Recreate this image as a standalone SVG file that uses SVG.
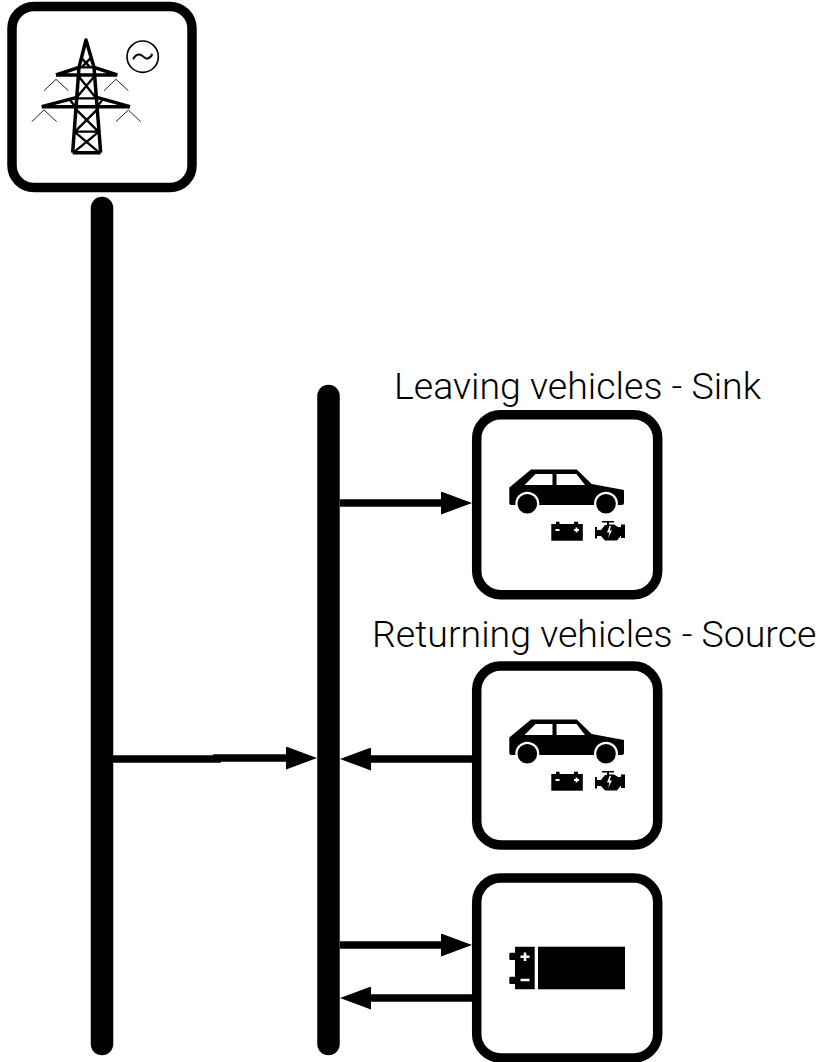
<svg xmlns="http://www.w3.org/2000/svg" width="819" height="1062" viewBox="0 0 819 1062">
<style>
.box{fill:#fff;stroke:#000;stroke-width:9.5}
.bar{stroke:#000;stroke-width:22.5;stroke-linecap:round;fill:none}
.conn{stroke:#000;stroke-width:7.7;fill:none;marker-end:url(#head)}
.lbl{font-family:Roboto,"Liberation Sans",sans-serif;font-weight:300;font-size:37.500px;fill:#000}
.t{stroke:#000;stroke-width:7;fill:none;stroke-linejoin:round}
.t2{stroke:#000;stroke-width:10.500;fill:none;stroke-linejoin:round}
.thin{stroke:#222;stroke-width:3;fill:none}
</style>
<defs>
<marker id="head" markerUnits="userSpaceOnUse" markerWidth="31" markerHeight="23" viewBox="0 0 31 23" refX="10" refY="11.500" orient="auto"><polygon points="0,0 31,11.500 0,23" fill="#000"/></marker>
<g id="car">
<path d="M509.300 487.500L531 469.500H576.700L591.700 484L624 490V503Q624 505 622 505H511Q509.300 505 509.300 503Z" fill="#000"/>
<path d="M524.500 485L535.500 474H552.500V485ZM556.500 474H576.500L585 485H556.500Z" fill="#fff"/>
<circle cx="527.300" cy="503.700" r="12" fill="#fff"/><circle cx="527.300" cy="503.700" r="9.800" fill="#000"/>
<circle cx="606" cy="503.700" r="12" fill="#fff"/><circle cx="606" cy="503.700" r="9.800" fill="#000"/>
<rect x="551.300" y="524" width="31.500" height="16.700" fill="#000"/>
<rect x="556" y="521.700" width="3.500" height="3" fill="#000"/><rect x="574" y="521.700" width="4" height="3" fill="#000"/>
<path d="M555.500 530H559.500M574 530H579M576.500 527.500V532.500" stroke="#fff" stroke-width="1.800" fill="none"/>
<path d="M602 521H614V522.500H609V524.500H614L618 527H621V524.500H625V538H621V535.500L617 540.500H605L601 536H597V538.500H595V527H597V530H601L605 525H607V522.500H602Z" fill="#000"/>
<path d="M609.500 526L607 532.500H609.500L608 538L612 530.500H609.700L611 526Z" fill="#fff"/>
</g>
</defs>
<g id="connectors">
<path class="conn" d="M113 759H217V758H296"/>
<path class="conn" d="M472 759H361"/>
<path class="conn" d="M340 503H451"/>
<path class="conn" d="M340 945H451"/>
<path class="conn" d="M472 998H361"/>
</g>
<g id="bus-grid"><line class="bar" x1="102" y1="208" x2="102" y2="1044"/></g>
<g id="bus-local"><line class="bar" x1="328.500" y1="396" x2="328.500" y2="1044"/></g>
<g id="grid-node">
<rect class="box" x="12" y="6.500" width="180" height="181" rx="22"/>
<g transform="translate(30 30) scale(.33333)">
<path class="t2" d="M128 368H212M128 368L147 112L168 30L192 112L212 368"/>
<path class="t" d="M155 85L181 112M181 85L155 112M147 112H192M147 140L195 200M192 140L142 200M142 205H200M135 235L205 305M205 235L135 305M133 305H207M133 305L208 368M207 305L130 368"/>
<path class="t2" d="M78 135H262M35 230H300M78 135L147 112M262 135L192 112M35 230L138 203M300 230L203 203"/>
<path class="t" d="M118 208L136 230M218 208L202 230"/>
<path class="thin" d="M42 182L78 148L115 182M222 182L258 148L295 182M5 275L42 240L80 275M258 275L295 240L332 275"/>
<circle cx="338" cy="80" r="47" fill="#fff" stroke="#000" stroke-width="5"/>
<path d="M309 88C320 68 332 72 340 80C348 88 358 90 367 72" fill="none" stroke="#000" stroke-width="6"/>
</g>
</g>
<g id="leaving-node">
<rect class="box" x="476.700" y="414.700" width="181" height="180" rx="24"/>
<use href="#car"/>
<text class="lbl" x="394" y="399">Leaving vehicles - Sink</text>
</g>
<g id="returning-node">
<rect class="box" x="476.700" y="666" width="181" height="179" rx="24"/>
<use href="#car" y="250"/>
<text class="lbl" x="372" y="647">Returning vehicles - Source</text>
</g>
<g id="storage-node">
<rect class="box" x="476.700" y="878" width="181" height="180" rx="24"/>
<path d="M515 946.700H534.700V989.300H515V984H510.500Q509.300 984 509.300 982.500V978Q509.300 976.700 510.500 976.700H515V960H510.500Q509.300 960 509.300 958.500V954Q509.300 952.700 510.500 952.700H515Z" fill="#000"/>
<rect x="538" y="946.700" width="87" height="42.600" fill="#000"/>
<path d="M520.500 956.700H529.500M525 952.500V961M520.500 980H529.500" stroke="#fff" stroke-width="2.500" fill="none"/>
</g>
</svg>
